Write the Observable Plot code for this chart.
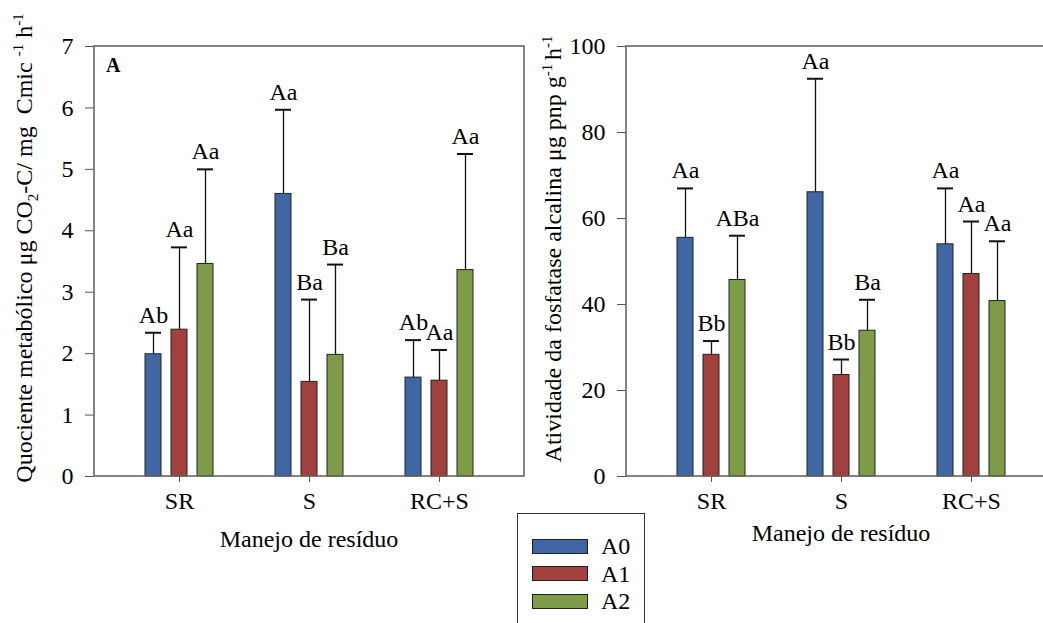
<!DOCTYPE html>
<html>
<head>
<meta charset="utf-8">
<script src="https://cdn.jsdelivr.net/npm/d3@7"></script>
<script src="https://cdn.jsdelivr.net/npm/@observablehq/plot@0.6"></script>
<style>
  html, body { margin: 0; padding: 0; background: #fff; }
  #wrap { position: relative; width: 1043px; height: 623px; overflow: hidden; background: #fff;
          font-family: "Liberation Serif", "DejaVu Serif", serif; color: #000; }
  #wrap svg { position: absolute; top: 0; overflow: visible; }
  .ylab { position: absolute; white-space: nowrap; font-size: 24px; transform: translate(-50%, -50%) rotate(-90deg); }
  .ylab sub, .ylab sup { font-size: 15px; }
  .xlab { position: absolute; white-space: nowrap; font-size: 24px; transform: translateX(-50%); }
  .panel { position: absolute; font-weight: bold; font-size: 20px; }
  #legend { position: absolute; left: 517px; top: 513px; width: 126px; height: 130px; border: 1.5px solid #333; background: #fff; }
  #legend .row { position: absolute; left: 14px; display: flex; align-items: center; font-size: 24px; line-height: 24px; }
  #legend .sw { width: 54px; height: 13px; border: 1px solid #222; margin-right: 13px; }
</style>
</head>
<body>
<div id="wrap"></div>
<script>
// ---- data ----
const categories = ["SR", "S", "RC+S"];
const series = ["A0", "A1", "A2"];
const seriesColors = ["#3e67a3", "#a1403d", "#7e9b47"];

// Panel A: Quociente metabólico
const qA0 = [1.99, 4.60, 1.61];
const qA1 = [2.39, 1.54, 1.56];
const qA2 = [3.46, 1.98, 3.36];
const qErrA0 = [0.35, 1.37, 0.61];
const qErrA1 = [1.34, 1.34, 0.50];
const qErrA2 = [1.54, 1.47, 1.89];
const qLetA0 = ["Ab", "Aa", "Ab"];
const qLetA1 = ["Aa", "Ba", "Aa"];
const qLetA2 = ["Aa", "Ba", "Aa"];
const qTicks = [0, 1, 2, 3, 4, 5, 6, 7];

// Panel B: Atividade da fosfatase alcalina
const fA0 = [55.5, 66.1, 54.0];
const fA1 = [28.3, 23.6, 47.1];
const fA2 = [45.7, 33.9, 40.8];
const fErrA0 = [11.5, 26.4, 13.0];
const fErrA1 = [3.2, 3.6, 12.2];
const fErrA2 = [10.3, 7.2, 13.9];
const fLetA0 = ["Aa", "Aa", "Aa"];
const fLetA1 = ["Bb", "Bb", "Aa"];
const fLetA2 = ["ABa", "Ba", "Aa"];
const fTicks = [0, 20, 40, 60, 80, 100];

const xTitle = "Manejo de resíduo";

function rowsOf(means, errs, lets) {
  const out = [];
  categories.forEach((c, i) => {
    series.forEach((s, j) => {
      out.push({cat: c, series: s, mean: means[j][i], top: means[j][i] + errs[j][i], letter: lets[j][i]});
    });
  });
  return out;
}
const qRows = rowsOf([qA0, qA1, qA2], [qErrA0, qErrA1, qErrA2], [qLetA0, qLetA1, qLetA2]);
const fRows = rowsOf([fA0, fA1, fA2], [fErrA0, fErrA1, fErrA2], [fLetA0, fLetA1, fLetA2]);

const W = 542, H = 560, ML = 95, MR = 17, MT = 46, MB = 84;
const FONT = "'Liberation Serif', 'DejaVu Serif', serif";

function panel(rows, yDomain, yTicks) {
  const chart = Plot.plot({
    width: W, height: H,
    marginLeft: ML, marginRight: MR, marginTop: MT, marginBottom: MB,
    style: {fontFamily: FONT, fontSize: "24px", background: "transparent", color: "#000"},
    facet: {data: rows, x: "cat", label: null},
    fx: {domain: categories, paddingInner: 0.4, paddingOuter: 0.347, tickSize: 6, tickPadding: 9, label: null},
    x: {domain: series, paddingInner: 0.4, paddingOuter: 0.2, axis: null},
    y: {domain: yDomain, ticks: yTicks, tickFormat: "d", tickSize: 9, tickPadding: 12, label: null},
    color: {domain: series, range: seriesColors},
    marks: [
      Plot.ruleX(rows, {x: "series", y1: "mean", y2: "top", stroke: "#111", strokeWidth: 1.3}),
      Plot.barY(rows, {x: "series", y: "mean", fill: "series", stroke: "#222", strokeWidth: 1}),
      Plot.tickY(rows, {x: "series", y: "top", stroke: "#111", strokeWidth: 2}),
      Plot.text(rows, {x: "series", y: "top", text: "letter", lineAnchor: "bottom", dy: -10, fontSize: 24, fontFamily: FONT})
    ]
  });
  const svg = d3.select(chart);
  svg.selectAll("text").attr("font-family", FONT).style("font-family", FONT);
  // the facet y axis sits at the first facet's edge; move it to the plot's left edge
  const fx = chart.scale("fx");
  const shift = ML - fx.apply(categories[0]);
  svg.selectAll('g[aria-label^="y-axis"]').each(function () {
    const g = d3.select(this);
    const t = g.attr("transform") || "";
    g.attr("transform", `translate(${shift},0) ${t}`);
  });
  svg.selectAll('g[aria-label^="y-axis"] path, g[aria-label^="fx-axis"] path').attr("stroke", "#555");
  svg.append("rect")
    .attr("x", ML).attr("y", MT)
    .attr("width", W - ML - MR).attr("height", H - MT - MB)
    .attr("fill", "none").attr("stroke", "#666").attr("stroke-width", 1.6);
  return chart;
}

const wrap = document.getElementById("wrap");

const left = panel(qRows, [0, 7], qTicks);
left.style.left = "-1px";
wrap.appendChild(left);

const right = panel(fRows, [0, 100], fTicks);
right.style.left = "531px";
wrap.appendChild(right);

// panel letter
const pA = document.createElement("div");
pA.className = "panel"; pA.textContent = "A";
pA.style.left = "106px"; pA.style.top = "54px";
wrap.appendChild(pA);

// y-axis titles
const yl = document.createElement("div");
yl.className = "ylab";
yl.innerHTML = "Quociente metabólico μg CO<sub>2</sub>-C/ mg&nbsp; Cmic <sup>-1</sup> h<sup>-1</sup>";
yl.style.left = "26px"; yl.style.top = "248px";
wrap.appendChild(yl);

const yr = document.createElement("div");
yr.className = "ylab";
yr.innerHTML = "Atividade da fosfatase alcalina μg pnp g<sup>-1 </sup>h<sup>-1</sup>";
yr.style.left = "553px"; yr.style.top = "249px";
wrap.appendChild(yr);

// x-axis titles
[[309, 526], [841, 520]].forEach(([x, y]) => {
  const d = document.createElement("div");
  d.className = "xlab"; d.textContent = xTitle;
  d.style.left = x + "px"; d.style.top = y + "px";
  wrap.appendChild(d);
});

// legend
const lg = document.createElement("div");
lg.id = "legend";
series.forEach((s, i) => {
  const r = document.createElement("div");
  r.className = "row";
  r.style.top = (20 + i * 27.5) + "px";
  const sw = document.createElement("div");
  sw.className = "sw"; sw.style.background = seriesColors[i];
  const t = document.createElement("span"); t.textContent = s;
  r.appendChild(sw); r.appendChild(t);
  lg.appendChild(r);
});
wrap.appendChild(lg);
</script>
</body>
</html>
